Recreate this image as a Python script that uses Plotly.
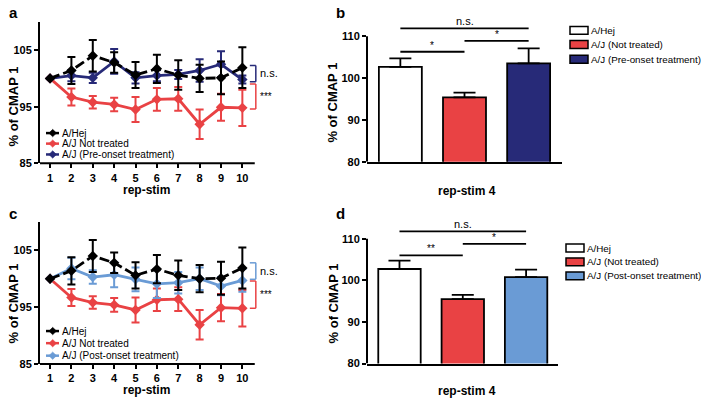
import plotly.graph_objects as go

W, H = 709, 406
# a pagina tem margem de 8px no body: a figura comeca em (8, 8)
MARGEM = 8
FW, FH = W - 2 * MARGEM, H - MARGEM

# dados - curvas rep-stim (% do CMAP 1)
rep_stim = [1, 2, 3, 4, 5, 6, 7, 8, 9, 10]
hej_mean = [100, 101.4, 104.0, 102.8, 100.6, 101.7, 100.6, 100.0, 100.1, 101.9]
hej_err = [0, 2.4, 2.8, 1.8, 2.3, 2.5, 2.6, 2.4, 2.9, 3.6]
nt_mean = [100, 96.7, 95.8, 95.4, 94.5, 96.3, 96.4, 91.9, 94.9, 94.8]
nt_err = [0, 1.5, 1.1, 1.2, 2.2, 2.0, 2.1, 2.6, 2.4, 3.2]
pre_mean = [100, 100.5, 100.1, 103.0, 100.1, 100.5, 100.7, 101.4, 102.5, 99.8]
pre_err = [0, 1.0, 0.9, 2.2, 1.0, 1.0, 0.8, 2.0, 2.3, 0.7]
post_mean = [100, 101.8, 100.3, 100.7, 99.9, 99.1, 99.3, 100.0, 98.7, 99.7]
post_err = [0, 1.9, 1.2, 2.2, 2.1, 2.5, 1.9, 2.0, 1.6, 2.0]

# dados - barras rep-stim 4
grupos_b = ['A/Hej', 'A/J (Not treated)', 'A/J (Pre-onset treatment)']
b_mean = [102.7, 95.4, 103.5]
b_err = [2.0, 1.1, 3.6]
grupos_d = ['A/Hej', 'A/J (Not treated)', 'A/J (Post-onset treatment)']
d_mean = [102.75, 95.5, 100.8]
d_err = [2.0, 1.0, 1.8]

# significancia: (barra i, barra j, texto, altura)
sig_b = [(0, 2, 'n.s.', 111.9), (0, 1, '*', 106.3), (1, 2, '*', 108.9)]
sig_d = [(0, 2, 'n.s.', 111.8), (0, 1, '**', 106.0), (1, 2, '*', 108.8)]

PRETO = '#000000'
VERMELHO = '#E94244'
AZUL = '#272A78'
AZUL_CLARO = '#6A9BD5'
FONTE = 'Liberation Sans, Arial, sans-serif'


def px(x):
    return (x - MARGEM) / FW


def py(y):
    return 1 - (y - MARGEM) / FH


fig = go.Figure()


def linha(mean, err, cor, nome, xa, ya, dash='solid'):
    fig.add_trace(go.Scatter(
        x=rep_stim, y=mean, mode='lines+markers', name=nome,
        line=dict(color=cor, width=2.8, dash=dash),
        marker=dict(symbol='diamond', size=8, color=cor),
        error_y=dict(type='data', array=err, color=cor, thickness=2, width=4),
        xaxis=xa, yaxis=ya, showlegend=False
    ))


# painel a
linha(nt_mean, nt_err, VERMELHO, 'A/J Not treated', 'x', 'y')
linha(pre_mean, pre_err, AZUL, 'A/J (Pre-onset treatment)', 'x', 'y')
linha(hej_mean, hej_err, PRETO, 'A/Hej', 'x', 'y', dash='10px,4px')
# painel c
linha(nt_mean, nt_err, VERMELHO, 'A/J Not treated', 'x3', 'y3')
linha(post_mean, post_err, AZUL_CLARO, 'A/J (Post-onset treatment)', 'x3', 'y3')
linha(hej_mean, hej_err, PRETO, 'A/Hej', 'x3', 'y3', dash='10px,4px')


def barras(mean, err, cores, nomes, xa, ya):
    fig.add_trace(go.Bar(
        x=[0, 1, 2], y=mean, width=0.67, base=0,
        marker=dict(color=cores, line=dict(color=PRETO, width=1.8)),
        error_y=dict(type='data', array=err, arrayminus=[0, 0, 0], symmetric=False,
                     color=PRETO, thickness=1.8, width=11),
        hovertext=nomes, xaxis=xa, yaxis=ya, showlegend=False
    ))


barras(b_mean, b_err, ['#FFFFFF', VERMELHO, AZUL], grupos_b, 'x2', 'y2')
barras(d_mean, d_err, ['#FFFFFF', VERMELHO, AZUL_CLARO], grupos_d, 'x4', 'y4')

eixo_comum = dict(showgrid=False, zeroline=False, ticks='outside', ticklen=4, tickwidth=1.5,
                  tickcolor=PRETO, linecolor=PRETO, linewidth=2,
                  tickfont=dict(family=FONTE, size=11, color=PRETO, weight='bold'))

fig.update_layout(
    width=FW, height=FH, margin=dict(l=0, r=0, t=0, b=0),
    paper_bgcolor='white', plot_bgcolor='rgba(0,0,0,0)',
    font=dict(family=FONTE, color=PRETO),
    xaxis=dict(eixo_comum, domain=[px(40), px(268)], range=[0.53, 11.2], anchor='y',
               tickvals=rep_stim, showline=False),
    yaxis=dict(eixo_comum, domain=[py(165.7), py(22)], range=[85, 110], anchor='x',
               tickvals=[85, 95, 105], showline=True),
    xaxis3=dict(eixo_comum, domain=[px(40), px(268)], range=[0.53, 11.2], anchor='y3',
                tickvals=rep_stim, showline=False),
    yaxis3=dict(eixo_comum, domain=[py(369.4), py(225.2)], range=[85, 110], anchor='x3',
                tickvals=[85, 95, 105], showline=True),
    xaxis2=dict(eixo_comum, domain=[px(367), px(562)], range=[-0.52, 2.52], anchor='y2',
                showline=True, ticks='', showticklabels=False),
    yaxis2=dict(eixo_comum, domain=[py(164), py(24)], range=[80, 113], anchor='x2',
                tickvals=[80, 90, 100, 110], showline=False),
    xaxis4=dict(eixo_comum, domain=[px(367), px(558)], range=[-0.513, 2.504], anchor='y4',
                showline=True, ticks='', showticklabels=False),
    yaxis4=dict(eixo_comum, domain=[py(369), py(229.7)], range=[80, 113], anchor='x4',
                tickvals=[80, 90, 100, 110], showline=False),
)

shapes = []
anots = []

# linhas de eixo desenhadas a parte
for xa, ya in [('x', 'y'), ('x3', 'y3')]:
    shapes.append(dict(type='line', xref=xa, yref=ya + ' domain', x0=0.53, x1=10.58, y0=0, y1=0,
                       line=dict(color=PRETO, width=2)))
for xa, ya in [('x2', 'y2'), ('x4', 'y4')]:
    shapes.append(dict(type='line', xref=xa + ' domain', yref=ya, x0=0, x1=0, y0=80, y1=110,
                       line=dict(color=PRETO, width=2)))


def colchete(xa, ya, y0, y1, cor):
    for y in (y0, y1):
        shapes.append(dict(type='line', xref=xa, yref=ya, x0=10.35, x1=10.63, y0=y, y1=y,
                           line=dict(color=cor, width=1.5)))
    shapes.append(dict(type='line', xref=xa, yref=ya, x0=10.63, x1=10.63, y0=y0, y1=y1,
                       line=dict(color=cor, width=1.5)))


colchete('x', 'y', 102.3, 99.4, AZUL)
colchete('x', 'y', 99.0, 94.6, VERMELHO)
colchete('x3', 'y3', 102.8, 99.9, AZUL_CLARO)
colchete('x3', 'y3', 99.6, 94.8, VERMELHO)

for xa, ya, yn, ye in [('x', 'y', 101.0, 96.8), ('x3', 'y3', 101.4, 97.2)]:
    anots.append(dict(xref=xa, yref=ya, x=10.75, y=yn, text='n.s.', showarrow=False,
                      xanchor='left', yanchor='middle', font=dict(size=11)))
    anots.append(dict(xref=xa, yref=ya, x=10.75, y=ye, text='***', showarrow=False,
                      xanchor='left', yanchor='middle', font=dict(size=10)))

# barras de significancia
for sig, xa, ya in [(sig_b, 'x2', 'y2'), (sig_d, 'x4', 'y4')]:
    for i, j, txt, alt in sig:
        shapes.append(dict(type='line', xref=xa, yref=ya, x0=i, x1=j, y0=alt, y1=alt,
                           line=dict(color=PRETO, width=1.8)))
        anots.append(dict(xref=xa, yref=ya, x=(i + j) / 2, y=alt, text=txt, showarrow=False,
                          xanchor='center', yanchor='bottom', yshift=-1,
                          font=dict(size=11 if txt == 'n.s.' else 10)))

# legendas manuais - paineis de linha
leg_linhas = [
    (['A/Hej', 'A/J Not treated', 'A/J (Pre-onset treatment)'], [PRETO, VERMELHO, AZUL],
     [135, 145.7, 156.7]),
    (['A/Hej', 'A/J Not treated', 'A/J (Post-onset treatment)'], [PRETO, VERMELHO, AZUL_CLARO],
     [336, 348.3, 361]),
]
for nomes, cores, ys in leg_linhas:
    for nome, cor, y in zip(nomes, cores, ys):
        shapes.append(dict(type='line', xref='paper', yref='paper', x0=px(46), x1=px(59),
                           y0=py(y), y1=py(y), line=dict(color=cor, width=2.5)))
        cx, r = 52.7, 3.8
        shapes.append(dict(type='path', xref='paper', yref='paper', fillcolor=cor,
                           line=dict(color=cor, width=0.5),
                           path=f'M {px(cx)},{py(y - r)} L {px(cx + r)},{py(y)} '
                                f'L {px(cx)},{py(y + r)} L {px(cx - r)},{py(y)} Z'))
        anots.append(dict(xref='paper', yref='paper', x=px(60), y=py(y), text=nome,
                          showarrow=False, xanchor='left', yanchor='middle',
                          font=dict(size=10)))

# legendas manuais - paineis de barras
leg_barras = [
    (grupos_b, ['#FFFFFF', VERMELHO, AZUL], [30.7, 45, 60], 570),
    (grupos_d, ['#FFFFFF', VERMELHO, AZUL_CLARO], [251.7, 265.7, 280], 566),
]
for nomes, cores, ys, x0 in leg_barras:
    for nome, cor, y in zip(nomes, cores, ys):
        shapes.append(dict(type='rect', xref='paper', yref='paper', x0=px(x0), x1=px(x0 + 18),
                           y0=py(y + 4), y1=py(y - 4), fillcolor=cor,
                           line=dict(color=PRETO, width=1.5)))
        anots.append(dict(xref='paper', yref='paper', x=px(x0 + 19), y=py(y), text=nome,
                          showarrow=False, xanchor='left', yanchor='middle',
                          font=dict(size=9.8)))

# titulos dos eixos e letras dos paineis
negrito = dict(family=FONTE, color=PRETO, weight='bold')
for x, y in [(13, 108), (13, 308), (333, 104), (333, 308)]:
    anots.append(dict(xref='paper', yref='paper', x=px(x), y=py(y), text='% of CMAP 1',
                      textangle=-90, showarrow=False, xanchor='center', yanchor='middle',
                      font=dict(negrito, size=13)))
for x, y, t in [(146.7, 192.7, 'rep-stim'), (146.7, 396, 'rep-stim'),
                (467, 193.3, 'rep-stim 4'), (466.7, 396.5, 'rep-stim 4')]:
    anots.append(dict(xref='paper', yref='paper', x=px(x), y=py(y), text=t,
                      showarrow=False, xanchor='center', yanchor='middle',
                      font=dict(negrito, size=12)))
for x, y, t in [(13, 13, 'a'), (340, 13, 'b'), (13, 217, 'c'), (340, 217, 'd')]:
    anots.append(dict(xref='paper', yref='paper', x=px(x), y=py(y), text=t,
                      showarrow=False, xanchor='center', yanchor='middle',
                      font=dict(negrito, size=15)))

fig.update_layout(shapes=shapes, annotations=anots)
fig.write_html('out.html')
